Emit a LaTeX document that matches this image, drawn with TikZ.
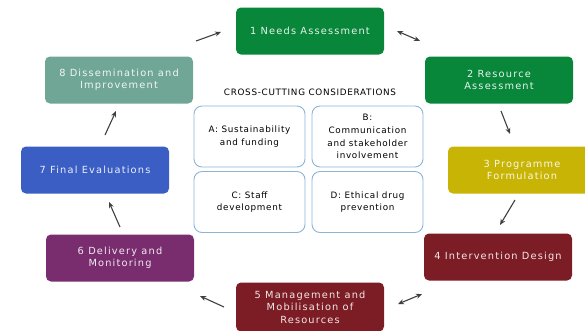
\documentclass[tikz,border=0pt]{standalone}
\usepackage{fontspec}
\setmainfont{DejaVu Sans}
\newfontfamily\stepfont[LetterSpace=12]{DejaVu Sans}
\newfontfamily\crossfont[LetterSpace=8]{DejaVu Sans}
\usetikzlibrary{arrows.meta}
\definecolor{stepgreen}{RGB}{8,134,58}
\definecolor{stepyellow}{RGB}{200,180,4}
\definecolor{stepred}{RGB}{124,28,36}
\definecolor{steppurple}{RGB}{121,44,110}
\definecolor{stepblue}{RGB}{58,94,196}
\definecolor{stepteal}{RGB}{112,166,150}
\definecolor{crossline}{RGB}{140,180,215}
\tikzset{
  stepbox/.style={rounded corners=5pt,minimum width=148pt,minimum height=47pt,
    align=center,text=white,text opacity=0.9,font=\stepfont\fontsize{9.8}{12.5}\selectfont},
  crossbox/.style={draw=crossline,line width=0.9pt,fill=white,rounded corners=8pt,
    minimum width=111pt,minimum height=61pt,align=center,inner sep=1pt,
    font=\crossfont\fontsize{8.8}{12.7}\selectfont},
  cyc/.style={-{Stealth[length=6pt,width=5pt]},line width=1.1pt,black!75},
  cyc2/.style={{Stealth[length=6pt,width=5pt]}-{Stealth[length=6pt,width=5pt]},line width=1.1pt,black!75}
}
\begin{document}
\begin{tikzpicture}[x=1pt,y=-1pt]
 \useasboundingbox (0,0) rectangle (585,330);
 \clip (0,0) rectangle (585,330);
 % cycle steps
 \node[stepbox,fill=stepgreen] (s1) at (310,31) {1 Needs Assessment};
 \node[stepbox,fill=stepgreen] (s2) at (499,80) {2 Resource\\Assessment};
 \node[stepbox,fill=stepyellow] (s3) at (522,170) {3 Programme\\Formulation};
 \node[stepbox,fill=stepred] (s4) at (498,257) {4 Intervention Design};
 \node[stepbox,fill=stepred,minimum height=49pt] (s5) at (310,307) {5 Management and\\Mobilisation of\\Resources};
 \node[stepbox,fill=steppurple] (s6) at (120,258) {6 Delivery and\\Monitoring};
 \node[stepbox,fill=stepblue] (s7) at (95,170) {7 Final Evaluations};
 \node[stepbox,fill=stepteal] (s8) at (119,80) {8 Dissemination and\\Improvement};
 % cross-cutting
 \node[font=\crossfont\fontsize{8.8}{10}\selectfont] (title) at (310,92) {CROSS-CUTTING CONSIDERATIONS};
 \node[crossbox] (ca) at (249.5,136.5) {A: Sustainability\\and funding};
 \node[crossbox] (cb) at (367.5,136.5) {B:\\Communication\\and stakeholder\\involvement};
 \node[crossbox] (cc) at (249.5,202) {C: Staff\\development};
 \node[crossbox] (cd) at (367.5,202) {D: Ethical drug\\prevention};
 % arrow ends
 \coordinate (a12) at (397,31); \coordinate (b12) at (420,41);
 \coordinate (a23) at (501,111); \coordinate (b23) at (510,134);
 \coordinate (a34) at (515,200); \coordinate (b34) at (500,225);
 \coordinate (a45) at (422,294); \coordinate (b45) at (398,304);
 \coordinate (a56) at (224,307); \coordinate (b56) at (200,296);
 \coordinate (a67) at (120,227); \coordinate (b67) at (109,202);
 \coordinate (a78) at (105,135); \coordinate (b78) at (116,111);
 \coordinate (a81) at (196,41); \coordinate (b81) at (221,32);
 \draw[cyc2] (a12) -- (b12);
 \draw[cyc] (a23) -- (b23);
 \draw[cyc] (a34) -- (b34);
 \draw[cyc2] (a45) -- (b45);
 \draw[cyc] (a56) -- (b56);
 \draw[cyc] (a67) -- (b67);
 \draw[cyc] (a78) -- (b78);
 \draw[cyc] (a81) -- (b81);
\end{tikzpicture}
\end{document}
